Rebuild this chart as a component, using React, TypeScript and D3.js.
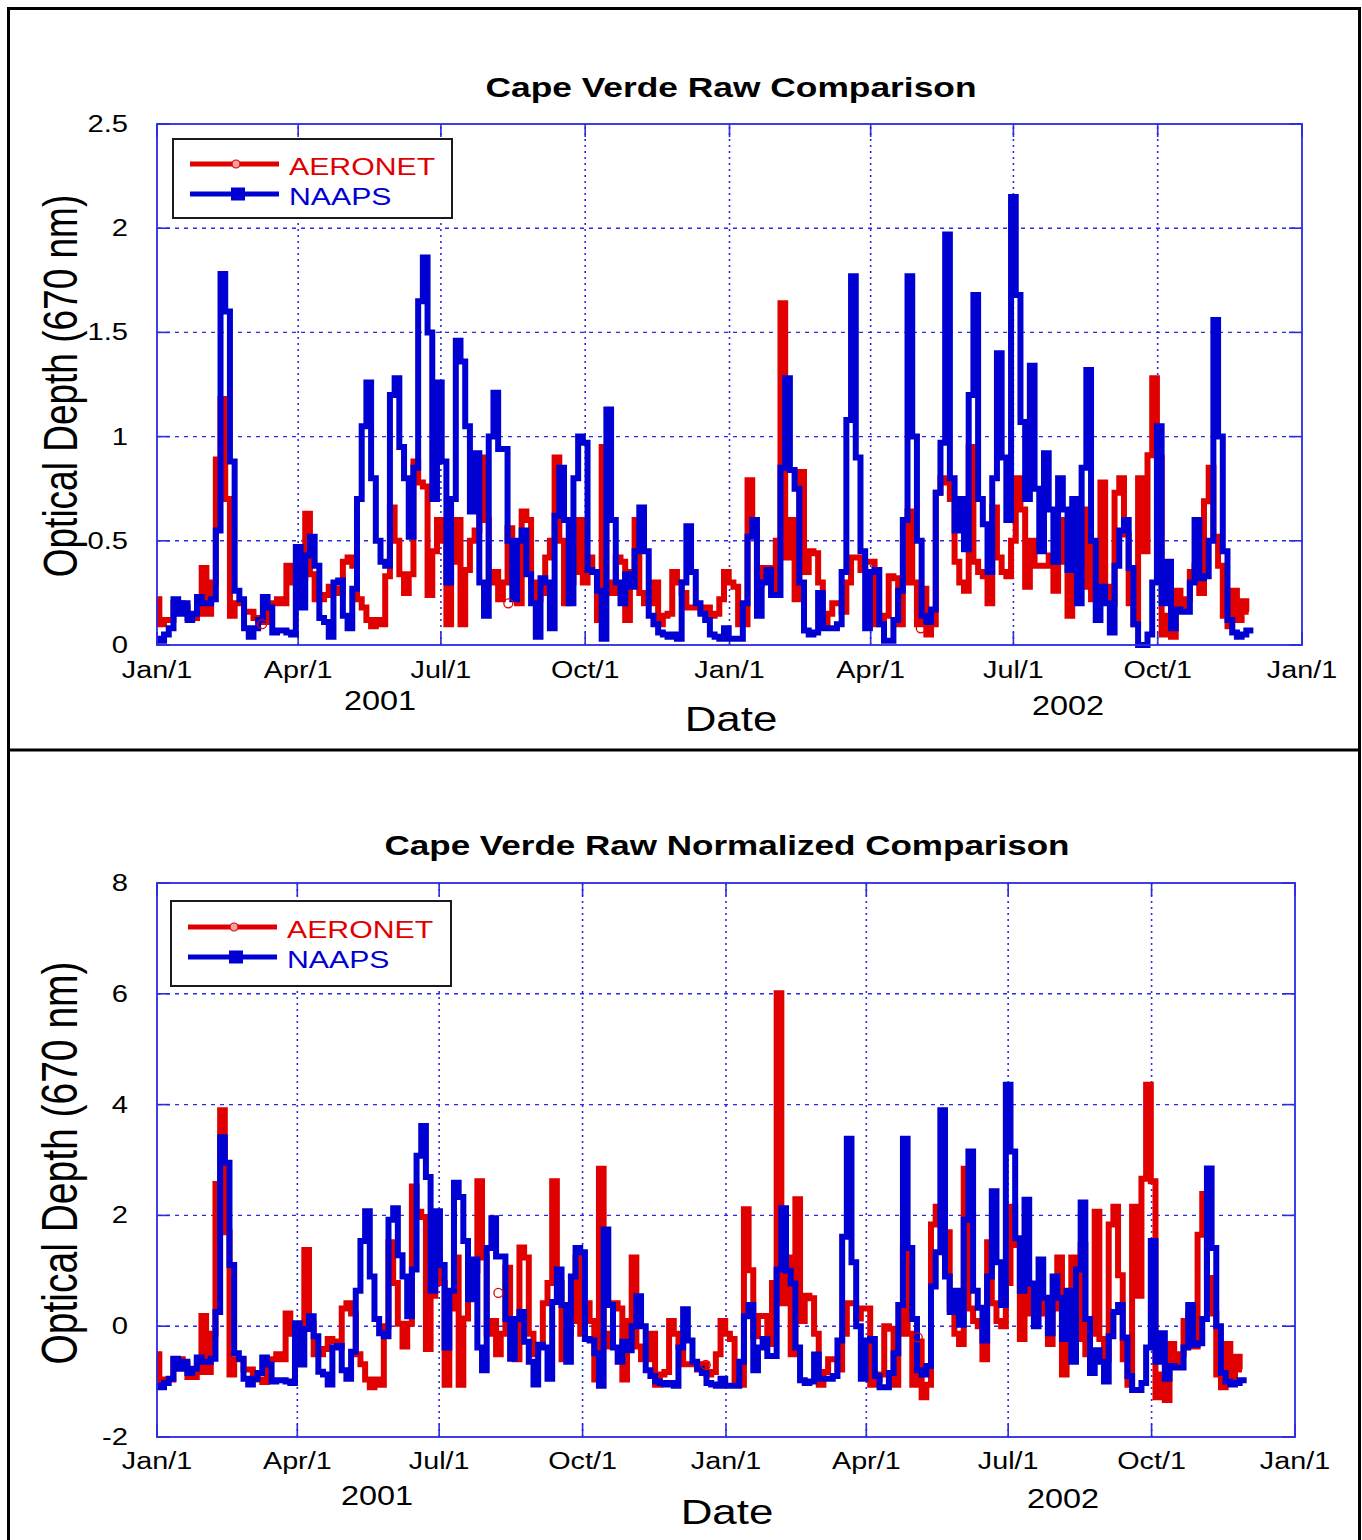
import React from "react";
import * as d3 from "d3";

// ---------- data ----------
const startDate = new Date(Date.UTC(2001, 0, 1));
const stepDays = 3; // one sample every 3 days
const domainStart = new Date(Date.UTC(2001, 0, 1));
const domainEnd = new Date(Date.UTC(2003, 0, 1));

// AERONET optical depth (670 nm), raw
const aeronetRaw = [
  0.22, 0.1, 0.12, 0.12, 0.2, 0.2, 0.18, 0.13, 0.13, 0.15,
  0.37, 0.15, 0.3, 0.89, 1.18, 0.7, 0.14, 0.2, 0.2, 0.16,
  0.16, 0.13, 0.12, 0.11, 0.2, 0.2, 0.22, 0.2, 0.38, 0.3,
  0.3, 0.32, 0.63, 0.34, 0.22, 0.22, 0.24, 0.28, 0.27, 0.25,
  0.4, 0.42, 0.38, 0.22, 0.18, 0.12, 0.09, 0.12, 0.1, 0.33,
  0.66, 0.5, 0.34, 0.25, 0.34, 0.88, 0.78, 0.76, 0.24, 0.45,
  0.6,
  0.5, 0.1, 0.4, 0.6, 0.1, 0.36, 0.5, 0.55, 0.9, 0.6,
  0.3, 0.35, 0.22, 0.3, 0.56, 0.3, 0.2, 0.64, 0.6, 0.3,
  0.22, 0.25, 0.42, 0.5, 0.9, 0.5, 0.2, 0.3, 0.35, 0.6,
  0.3, 0.42, 0.35, 0.12, 0.95, 0.3, 0.25, 0.42, 0.4, 0.12,
  0.35, 0.6, 0.25, 0.2, 0.2, 0.3, 0.1, 0.14, 0.15, 0.35,
  0.3, 0.25, 0.18, 0.18, 0.18, 0.16, 0.18, 0.14, 0.15, 0.22,
  0.35, 0.3,
  0.28, 0.1, 0.1, 0.79, 0.55, 0.29, 0.37, 0.37, 0.26, 0.5,
  1.64, 0.42, 0.6, 0.22, 0.83, 0.35, 0.45, 0.44, 0.3, 0.1,
  0.15, 0.2, 0.2, 0.16, 0.3, 0.42, 0.42, 0.36, 0.4, 0.4,
  0.1, 0.12, 0.14, 0.33, 0.32, 0.1, 0.3, 0.64, 0.3, 0.1,
  0.27, 0.05, 0.1, 0.73, 0.8, 0.78, 0.7, 0.4, 0.3, 0.26,
  0.95, 0.4, 0.35, 0.33, 0.2, 0.66, 0.42, 0.35, 0.33, 0.5,
  0.8,
  0.65, 0.28, 0.5, 0.38, 0.38, 0.38, 0.43, 0.26, 0.4, 0.6,
  0.14, 0.36, 0.6, 0.28, 0.65, 0.22, 0.3, 0.78, 0.28, 0.2,
  0.73, 0.8, 0.53, 0.2, 0.1, 0.8, 0.45, 0.91, 1.28, 0.9,
  0.05, 0.14, 0.04, 0.26, 0.17, 0.22, 0.35, 0.38, 0.25, 0.69,
  0.85, 0.52, 0.38, 0.14, 0.09, 0.26, 0.12, 0.21, 0.16,
];

// NAAPS optical depth (670 nm), raw
const naapsRaw = [
  0.03, 0.02, 0.05, 0.08, 0.22, 0.15, 0.2, 0.12, 0.15, 0.23,
  0.2, 0.2, 0.22, 0.55, 1.78, 1.6, 0.88, 0.26, 0.22, 0.08,
  0.04, 0.08, 0.12, 0.23, 0.18, 0.06, 0.07, 0.07, 0.06, 0.05,
  0.47, 0.18, 0.43, 0.52, 0.38, 0.13, 0.11, 0.04, 0.3, 0.31,
  0.14, 0.08, 0.27, 0.7, 1.05, 1.26, 0.8, 0.5, 0.4, 0.38,
  1.2, 1.28, 0.95, 0.8, 0.52, 0.85, 1.65, 1.86, 1.5, 0.7,
  1.26,
  0.88, 0.3, 0.7, 1.46, 1.36, 1.05, 0.64, 0.92, 0.3, 0.14,
  1.0, 1.21, 0.94, 0.94, 0.5, 0.22, 0.5, 0.55, 0.34, 0.2,
  0.04, 0.32, 0.3, 0.08, 0.62, 0.85, 0.6, 0.2, 0.8, 1.0,
  0.97, 0.36, 0.35, 0.26, 0.03, 1.13, 0.6, 0.3, 0.2, 0.34,
  0.28, 0.45, 0.66, 0.45, 0.14, 0.1, 0.06, 0.05, 0.04, 0.05,
  0.03, 0.3, 0.57, 0.35, 0.2, 0.15, 0.12, 0.05, 0.04, 0.03,
  0.08, 0.03,
  0.03, 0.03, 0.2, 0.52, 0.6, 0.14, 0.3, 0.36, 0.24, 0.24,
  0.85, 1.28, 0.84, 0.75, 0.3, 0.07, 0.05, 0.06, 0.25, 0.08,
  0.08, 0.08, 0.1, 0.35, 1.08, 1.77, 0.9, 0.45, 0.08, 0.35,
  0.36, 0.1, 0.02, 0.02, 0.12, 0.26, 0.6, 1.77, 1.0, 0.5,
  0.14, 0.11, 0.17, 0.73, 0.97, 1.97, 0.8, 0.55, 0.7, 0.46,
  1.2, 1.68, 0.7, 0.58, 0.35, 0.8, 1.4, 0.9, 0.6, 2.15,
  1.68,
  1.07, 0.7, 1.34, 0.75, 0.45, 0.92, 0.65, 0.4, 0.8, 0.65,
  0.36, 0.7, 0.2, 0.85, 1.32, 0.5, 0.12, 0.28, 0.2, 0.06,
  0.38, 0.55, 0.6, 0.37, 0.1, 0.0, 0.0, 0.05, 0.3, 1.05,
  0.2, 0.4, 0.08, 0.17, 0.16, 0.16, 0.3, 0.6, 0.32, 0.33,
  0.5, 1.56, 1.0, 0.45, 0.12, 0.06, 0.04, 0.05, 0.07, 0.07,
];

// normalisation used by the lower panel
const aeronetMean = 0.33;
const aeronetStd = 0.218;
const naapsMean = 0.45;
const naapsStd = 0.39;

// isolated AERONET circle markers
const rawMarkerDays = [67, 224, 487];
const rawMarkerValues = [0.1, 0.2, 0.08];
const normMarkerDays = [219, 352, 488];
const normMarkerValues = [0.6, -0.7, -0.2];

const xTickLabels = ["Jan/1", "Apr/1", "Jul/1", "Oct/1", "Jan/1", "Apr/1", "Jul/1", "Oct/1", "Jan/1"];
const yearLabels = ["2001", "2002"];
const rawYTicks = [0, 0.5, 1, 1.5, 2, 2.5];
const rawYTickLabels = ["0", "0.5", "1", "1.5", "2", "2.5"];
const normYTicks = [-2, 0, 2, 4, 6, 8];
const normYTickLabels = ["-2", "0", "2", "4", "6", "8"];
const seriesNames = ["AERONET", "NAAPS"];

// ---------- styling ----------
const RED = "#e00000";
const BLUE = "#0000d2";
const AXIS = "#2b2be6";
const FONT = "'Liberation Sans', Arial, Helvetica, sans-serif";

function SText(p: any) {
  const { x, y, size, anchor = "middle", fill = "#000", sx = 1.25, weight = "normal", children } = p;
  return (
    <text
      transform={`translate(${x},${y}) scale(${sx},1)`}
      fontSize={size}
      textAnchor={anchor}
      fill={fill}
      fontWeight={weight}
      fontFamily={FONT}
    >
      {children}
    </text>
  );
}

function Panel(p: any) {
  const {
    title, titleX, titleY, titleLen,
    xRange, yRange, yDomain, yTicks, yTickLabels,
    aer, naa, markerDays, markerValues,
    tickLabelY, legend, ylabel, years, dateLabel,
  } = p;
  const x = d3.scaleUtc().domain([domainStart, domainEnd]).range(xRange);
  const y = d3.scaleLinear().domain(yDomain).range(yRange);
  const dateAt = (i: number) => d3.utcDay.offset(startDate, i * stepDays);
  const line = d3
    .line<number>()
    .curve(d3.curveStep)
    .x((_d, i) => x(dateAt(i)))
    .y((d) => y(d));
  const tickDates = d3.utcMonth.every(3)!.range(domainStart, new Date(Date.UTC(2003, 0, 2)));
  const [x0, x1] = xRange;
  const [yB, yT] = yRange;
  const tl = 13;

  return (
    <g>
      <text
        x={titleX}
        y={titleY}
        textAnchor="middle"
        fontSize={28}
        fontWeight="bold"
        fontFamily={FONT}
        textLength={titleLen}
        lengthAdjust="spacingAndGlyphs"
      >
        {title}
      </text>

      {/* grid */}
      {yTicks.slice(1, -1).map((t: number) => (
        <line key={"gy" + t} x1={x0} x2={x1} y1={y(t)} y2={y(t)} stroke={AXIS} strokeWidth={1.4} strokeDasharray="4,5" />
      ))}
      {tickDates.slice(1, -1).map((d: Date, i: number) => (
        <line key={"gx" + i} x1={x(d)} x2={x(d)} y1={yB} y2={yT} stroke={AXIS} strokeWidth={1.6} strokeDasharray="2,4" />
      ))}

      {/* ticks */}
      {tickDates.map((d: Date, i: number) => (
        <g key={"tx" + i}>
          <line x1={x(d)} x2={x(d)} y1={yB} y2={yB - tl} stroke={AXIS} strokeWidth={1.6} />
          <line x1={x(d)} x2={x(d)} y1={yT} y2={yT + tl} stroke={AXIS} strokeWidth={1.6} />
        </g>
      ))}
      {yTicks.map((t: number) => (
        <g key={"ty" + t}>
          <line x1={x0} x2={x0 + tl} y1={y(t)} y2={y(t)} stroke={AXIS} strokeWidth={1.6} />
          <line x1={x1} x2={x1 - tl} y1={y(t)} y2={y(t)} stroke={AXIS} strokeWidth={1.6} />
        </g>
      ))}

      {/* data */}
      <path d={line(aer) || ""} fill="none" stroke={RED} strokeWidth={6} strokeLinejoin="miter" />
      <path d={line(naa) || ""} fill="none" stroke={BLUE} strokeWidth={6} strokeLinejoin="miter" />
      {markerDays.map((dd: number, i: number) => (
        <circle
          key={"m" + i}
          cx={x(d3.utcDay.offset(startDate, dd))}
          cy={y(markerValues[i])}
          r={4.5}
          fill="none"
          stroke={RED}
          strokeWidth={1.3}
        />
      ))}

      {/* axis box */}
      <rect x={x0} y={yT} width={x1 - x0} height={yB - yT} fill="none" stroke={AXIS} strokeWidth={1.8} />

      {/* tick labels */}
      {tickDates.map((d: Date, i: number) => (
        <SText key={"lx" + i} x={x(d)} y={tickLabelY} size={23} sx={1.25}>
          {xTickLabels[i]}
        </SText>
      ))}
      {yTicks.map((t: number, i: number) => (
        <SText key={"ly" + t} x={128} y={y(t) + 8} size={23} sx={1.27} anchor="end">
          {yTickLabels[i]}
        </SText>
      ))}

      {/* year labels and axis labels */}
      {years.map((yr: any, i: number) => (
        <SText key={"yr" + i} x={yr.x} y={yr.y} size={27} sx={1.2}>
          {yearLabels[i]}
        </SText>
      ))}
      <SText x={dateLabel.x} y={dateLabel.y} size={36} sx={1.22}>
        Date
      </SText>
      <text
        transform={`translate(${ylabel.x},${ylabel.y}) rotate(-90) scale(1,1.3)`}
        textAnchor="middle"
        fontSize={ylabel.size}
        fontFamily={FONT}
        fill="#000"
      >
        Optical Depth (670 nm)
      </text>

      {/* legend */}
      <g>
        <rect x={legend.x} y={legend.y} width={legend.w} height={legend.h} fill="#fff" stroke="#1a1a1a" strokeWidth={2} />
        <line x1={legend.x + 17} x2={legend.x + 106} y1={legend.l1} y2={legend.l1} stroke={RED} strokeWidth={5} />
        <circle cx={legend.x + 63} cy={legend.l1} r={4} fill="#f4a0a0" stroke={RED} strokeWidth={1.2} />
        <SText x={legend.x + 116} y={legend.l1 + 11} size={24} sx={1.26} anchor="start" fill={RED}>
          {seriesNames[0]}
        </SText>
        <line x1={legend.x + 17} x2={legend.x + 106} y1={legend.l2} y2={legend.l2} stroke={BLUE} strokeWidth={5} />
        <rect x={legend.x + 58} y={legend.l2 - 6.5} width={14} height={13} fill={BLUE} />
        <SText x={legend.x + 116} y={legend.l2 + 11} size={24} sx={1.26} anchor="start" fill={BLUE}>
          {seriesNames[1]}
        </SText>
      </g>
    </g>
  );
}

export default function App() {
  const aeronetNorm = aeronetRaw.map((v) => (v - aeronetMean) / aeronetStd);
  const naapsNorm = naapsRaw.map((v) => (v - naapsMean) / naapsStd);
  return (
    <svg
      width={1362}
      height={1540}
      viewBox="0 0 1362 1540"
      style={{ position: "absolute", left: 0, top: 0, display: "block", background: "#fff" }}
    >
      <rect x={0} y={0} width={1362} height={1540} fill="#fff" />
      {/* frames */}
      <line x1={8.5} x2={8.5} y1={7} y2={1540} stroke="#000" strokeWidth={3} />
      <line x1={7} x2={1361} y1={8.5} y2={8.5} stroke="#000" strokeWidth={3} />
      <line x1={1359.5} x2={1359.5} y1={7} y2={1540} stroke="#000" strokeWidth={3} />
      <line x1={7} x2={1361} y1={750} y2={750} stroke="#000" strokeWidth={3} />

      <Panel
        title="Cape Verde Raw Comparison"
        titleX={731}
        titleY={97}
        titleLen={491}
        xRange={[157, 1302]}
        yRange={[645, 124]}
        yDomain={[0, 2.5]}
        yTicks={rawYTicks}
        yTickLabels={rawYTickLabels}
        aer={aeronetRaw}
        naa={naapsRaw}
        markerDays={rawMarkerDays}
        markerValues={rawMarkerValues}
        tickLabelY={678}
        legend={{ x: 173, y: 139, w: 279, h: 79, l1: 164, l2: 194 }}
        ylabel={{ x: 77, y: 386, size: 37 }}
        years={[{ x: 380, y: 710 }, { x: 1068, y: 715 }]}
        dateLabel={{ x: 731, y: 731 }}
      />
      <Panel
        title="Cape Verde Raw Normalized Comparison"
        titleX={727}
        titleY={855}
        titleLen={685}
        xRange={[157, 1295]}
        yRange={[1437, 883]}
        yDomain={[-2, 8]}
        yTicks={normYTicks}
        yTickLabels={normYTickLabels}
        aer={aeronetNorm}
        naa={naapsNorm}
        markerDays={normMarkerDays}
        markerValues={normMarkerValues}
        tickLabelY={1469}
        legend={{ x: 171, y: 901, w: 280, h: 85, l1: 927, l2: 957 }}
        ylabel={{ x: 77, y: 1163, size: 39 }}
        years={[{ x: 377, y: 1505 }, { x: 1063, y: 1508 }]}
        dateLabel={{ x: 727, y: 1524 }}
      />
    </svg>
  );
}
